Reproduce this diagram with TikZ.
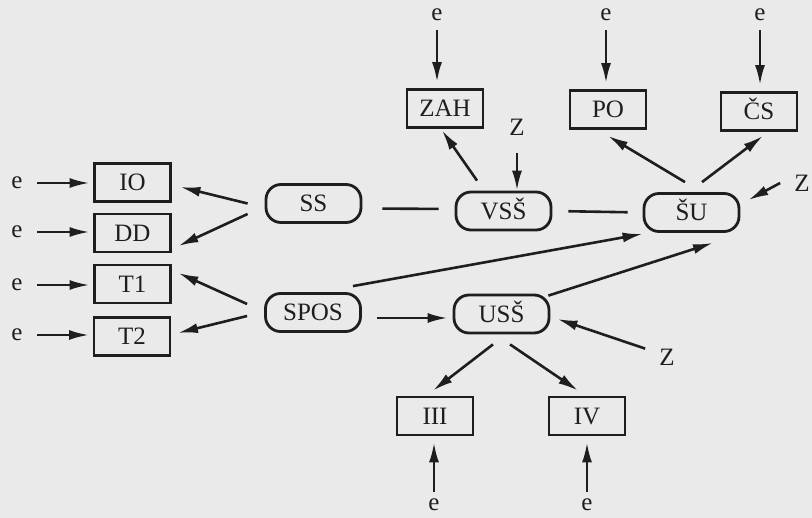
\documentclass[tikz,border=0pt]{standalone}
\usepackage{fontspec}
\setmainfont{Liberation Serif}
\usetikzlibrary{arrows.meta}
\definecolor{ink}{HTML}{1E1E1E}
\definecolor{paper}{HTML}{EAEAEA}

\begin{document}
\begin{tikzpicture}[x=1pt, y=-1pt, font=\fontsize{25}{30}\selectfont,
  every node/.style={text=ink},
  obs/.style={draw=ink, line width=2.8pt, minimum width=76pt, minimum height=38pt, inner sep=0pt, text height=17pt, text depth=0pt},
  lat/.style={draw=ink, line width=2.8pt, rounded corners=15pt, minimum width=95pt, minimum height=38pt, inner sep=0pt, text height=17pt, text depth=0pt},
  err/.style={inner sep=0pt},
  arr/.style={draw=ink, line width=2.6pt, -{Latex[length=20pt,width=10pt]}},
  cor/.style={draw=ink, line width=2.6pt}]
  \fill[paper] (0,0) rectangle (812,518);
  \useasboundingbox (0,0) rectangle (812,518);

  \node[obs] (io) at (132.5,182.5) {IO};
  \node[obs] (dd) at (132.5,233) {DD};
  \node[obs] (t1) at (132.5,284) {T1};
  \node[obs] (t2) at (132,336.5) {T2};
  \node[lat] (ss) at (313.5,203.5) {SS};
  \node[lat] (spos) at (313,312.5) {SPOS};
  \node[lat] (vss) at (503.5,211) {VSŠ};
  \node[lat] (su) at (691.5,212.5) {ŠU};
  \node[lat] (uss) at (501.5,314) {USŠ};
  \node[obs] (zah) at (445,108.5) {ZAH};
  \node[obs] (po) at (608,109.5) {PO};
  \node[obs] (cs) at (759,111.5) {ČS};
  \node[obs] (iii) at (435,416) {III};
  \node[obs] (iv) at (587,416) {IV};

  \foreach \b/\y in {io/183, dd/232, t1/285, t2/335} {
    \node[err] (e\b) at (17,\y) {e};
    \draw[arr, shorten <=14.5pt, shorten >=3.5pt] (e\b) -- (e\b -| \b.west);
  }
  \foreach \b/\x in {zah/437, po/606, cs/760} {
    \node[err] (e\b) at (\x,15) {e};
    \draw[arr, shorten <=9pt, shorten >=6pt] (e\b) -- (e\b |- \b.north);
  }
  \foreach \b/\x in {iii/434, iv/587} {
    \node[err] (e\b) at (\x,505) {e};
    \draw[arr, shorten <=7pt, shorten >=6pt] (e\b) -- (e\b |- \b.south);
  }

  \node[err] (z1) at (517,127) {Z};
  \node[err] (z2) at (802,183) {Z};
  \node[err] (z3) at (667,357) {Z};
  \draw[arr, shorten <=17.5pt] (z1) -- (z1 |- vss.north);
  \draw[arr] ([xshift=-14pt]z2.west) -- ([xshift=8pt,yshift=12.5pt]su.east);
  \draw[arr] ([xshift=-14pt]z3.north west) -- ([xshift=7pt,yshift=-5pt]uss.east);

  \draw[arr] ([xshift=-17pt]ss.west) -- ([xshift=8.5pt,yshift=-4.5pt]io.east);
  \draw[arr] ([xshift=-17pt,yshift=-10.5pt]ss.west) -- ([xshift=6.5pt,yshift=-13pt]dd.east);
  \draw[arr] ([xshift=-17pt,yshift=8.5pt]spos.west) -- ([xshift=6.5pt,yshift=11pt]t1.east);
  \draw[arr] ([xshift=-17pt,yshift=-3.5pt]spos.west) -- ([xshift=6.5pt,yshift=3.5pt]t2.east);

  \draw[cor, shorten <=20pt, shorten >=16pt] ([yshift=-5pt]ss.east) -- ([yshift=2pt]vss.west);
  \draw[cor, shorten <=16pt, shorten >=15pt] (vss.east) -- (su.west);

  \draw[arr] ([xshift=-26.5pt,yshift=10pt]vss.north) -- ([xshift=-3pt,yshift=-1.5pt]zah.south);
  \draw[arr] ([xshift=-6.5pt,yshift=10pt]su.north) -- ([yshift=-6pt]po.south);
  \draw[arr] ([xshift=10.5pt,yshift=10pt]su.north) -- ([xshift=4pt,yshift=-4pt]cs.south);
  \draw[arr] ([xshift=-9pt,yshift=6pt]spos.north east) -- ([yshift=-1pt]su.south west);
  \draw[arr] ([xshift=-2pt,yshift=-2pt]uss.north east) -- ([xshift=21.5pt,yshift=-10pt]su.south);
  \draw[arr, shorten <=15pt, shorten >=5pt] ([yshift=-5.5pt]spos.east) -- ([yshift=-4pt]uss.west);
  \draw[arr] ([xshift=-8.5pt,yshift=-10pt]uss.south) -- ([xshift=-2pt,yshift=5pt]iii.north);
  \draw[arr] ([xshift=8.5pt,yshift=-10pt]uss.south) -- ([xshift=-9pt,yshift=5pt]iv.north);
\end{tikzpicture}
\end{document}
